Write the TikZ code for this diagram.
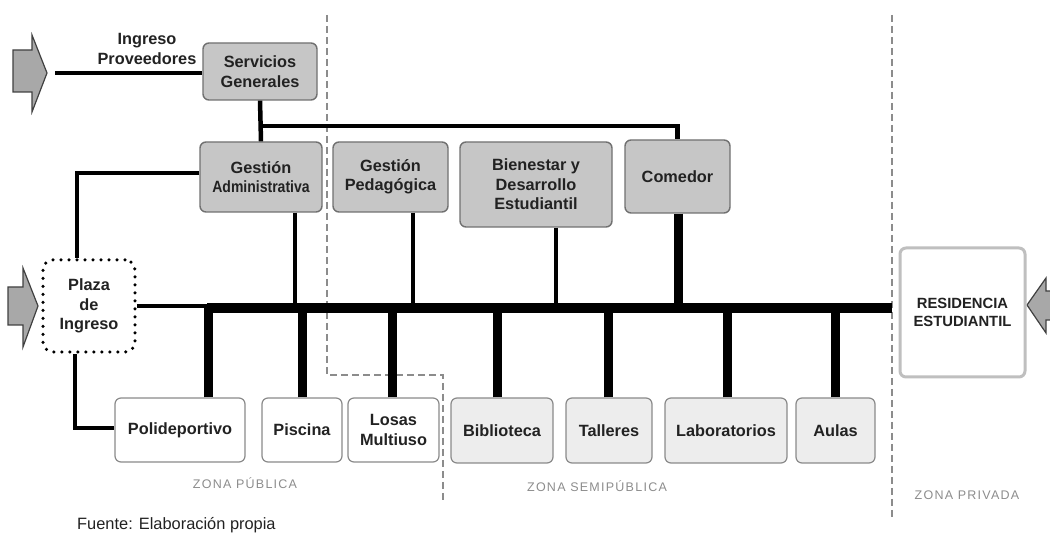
\documentclass[tikz,border=0pt]{standalone}
\usepackage{fontspec}
\setmainfont{Liberation Sans}
\newfontfamily\zonefont[LetterSpace=10]{Liberation Sans}
\definecolor{boxdark}{HTML}{C6C6C6}
\definecolor{boxlight}{HTML}{EDEDED}
\definecolor{edgegray}{HTML}{707070}
\definecolor{edgelight}{HTML}{8A8A8A}
\definecolor{txt}{HTML}{222222}
\definecolor{zonegray}{HTML}{8C8C8C}
\definecolor{arrowfill}{HTML}{A8A8A8}
\begin{document}
\begin{tikzpicture}[x=1pt,y=-1pt,
  boxbase/.style={rounded corners=6pt, align=center, inner sep=0pt, text=txt,
    font=\fontsize{16.3}{19.5}\selectfont\bfseries},
  darkbox/.style={boxbase, draw=edgegray, line width=1.4pt, fill=boxdark},
  lightbox/.style={boxbase, draw=edgelight, line width=1.2pt, fill=boxlight},
  whitebox/.style={boxbase, draw=edgelight, line width=1.2pt, fill=white},
  thinline/.style={line width=4.5pt, black},
  thickline/.style={line width=9pt, black},
  busline/.style={line width=10.5pt, black},
  zoneline/.style={draw=zonegray, line width=2pt, dash pattern=on 7pt off 4pt},
  zonelabel/.style={text=zonegray, font=\zonefont\fontsize{12.5}{14}\selectfont, inner sep=0pt},
  blockarrow/.style={fill=arrowfill, draw=black!75, line width=1.2pt, line join=miter}
]
\useasboundingbox (0,0) rectangle (1050,534);

% zone boundaries
\coordinate (zA) at (327,15);
\coordinate (zB) at (327,375);
\coordinate (zC) at (443,375);
\coordinate (zD) at (443,500);
\coordinate (zE) at (892,15);
\coordinate (zF) at (892,520);
\draw[zoneline] (zA) -- (zB) -- (zC) -- (zD);
\draw[zoneline] (zE) -- (zF);

% block arrows
\draw[blockarrow] (13,50) -- (32,50) -- (32,35) -- (47,73) -- (32,112) -- (32,92) -- (13,92) -- cycle;
\draw[blockarrow] (8,287) -- (23,287) -- (23,268) -- (38,306) -- (23,347) -- (23,325) -- (8,325) -- cycle;
\draw[blockarrow] (1051,291) -- (1046,291) -- (1046,278) -- (1027,305) -- (1046,333) -- (1046,320) -- (1051,320);

% upper nodes
\node[darkbox, minimum width=114, minimum height=57] (sg) at (260,71.5) {Servicios\\Generales};
\node[darkbox, minimum width=122, minimum height=70] (ga) at (261,177) {Gesti\'on\\\scalebox{0.86}[1]{Administrativa}};
\node[darkbox, minimum width=115, minimum height=70] (gp) at (390.5,177) {Gesti\'on\\Pedag\'ogica};
\node[darkbox, minimum width=152, minimum height=85] (bien) at (536,184.5) {Bienestar y\\Desarrollo\\Estudiantil};
\node[darkbox, minimum width=105, minimum height=73] (com) at (677.5,176.5) {Comedor};

\node[text=txt, font=\fontsize{16.3}{19.5}\selectfont\bfseries, align=center, inner sep=0pt] (ip) at (147,49) {Ingreso\\Proveedores};

% plaza
\node[boxbase, draw=black, line width=3.5pt, dash pattern=on 0pt off 8pt, line cap=round,
      fill=white, minimum width=92, minimum height=92, rounded corners=10pt] (plaza) at (89,306) {Plaza\\de\\Ingreso};

% residence
\node[boxbase, draw=black!25, line width=3pt, fill=white, minimum width=125, minimum height=129,
      font=\fontsize{14.8}{17.5}\selectfont\bfseries] (res) at (962.5,312.5) {RESIDENCIA\\ESTUDIANTIL};

% lower nodes
\node[whitebox, minimum width=130, minimum height=64] (poli) at (180,430) {Polideportivo};
\node[whitebox, minimum width=80, minimum height=64] (pisc) at (302,430) {Piscina};
\node[whitebox, minimum width=91, minimum height=64] (losas) at (393.5,430) {Losas\\Multiuso};
\node[lightbox, minimum width=102, minimum height=65] (bib) at (502,430.5) {Biblioteca};
\node[lightbox, minimum width=86, minimum height=65] (tall) at (609,430.5) {Talleres};
\node[lightbox, minimum width=122, minimum height=65] (lab) at (726,430.5) {Laboratorios};
\node[lightbox, minimum width=79, minimum height=65] (aulas) at (835.5,430.5) {Aulas};

% zone labels and source
\node[zonelabel] (zp) at (245,483) {ZONA P\'UBLICA};
\node[zonelabel] (zs) at (597,486) {ZONA SEMIP\'UBLICA};
\node[zonelabel] (zr) at (967,495) {ZONA PRIVADA};
\node[anchor=west, inner sep=0pt, text=txt, font=\fontsize{16.4}{18}\selectfont] (src) at (77,525) {Fuente: Elaboraci\'on propia};

% connectors
\coordinate (ipstart) at (55,73);
\draw[thinline] (ipstart) -- (ipstart -| sg.west);
\draw[thinline] (sg.south) -- (ga.north);
\coordinate (topbar) at (262,126);
\draw[thinline] (topbar) -| (com.north);

\coordinate (pA) at (77,173);
\draw[thinline] (ga.west |- pA) -- (pA) -- (pA |- plaza.north);
\coordinate (pB) at (75,428);
\draw[thinline] (pB |- plaza.south) -- (pB) -- (pB -| poli.west);

\coordinate (busStart) at (207,308);
\draw[thinline] (plaza.east) -- (plaza.east -| busStart);
\draw[busline] (busStart) -- ([xshift=-7pt]busStart -| res.west);

\draw[thinline] ([xshift=34pt]ga.south) -- ([xshift=34pt]ga.south |- busStart);
\draw[thinline] ([xshift=22.5pt]gp.south) -- ([xshift=22.5pt]gp.south |- busStart);
\draw[thinline] ([xshift=20pt]bien.south) -- ([xshift=20pt]bien.south |- busStart);
\draw[thickline] ([xshift=1pt]com.south) -- ([xshift=1pt]com.south |- busStart);

\draw[thickline] ([xshift=28pt]poli.north) -- ([xshift=28pt]poli.north |- busStart);
\draw[thickline] (pisc.north) -- (pisc.north |- busStart);
\draw[thickline] ([xshift=-1.5pt]losas.north) -- ([xshift=-1.5pt]losas.north |- busStart);
\draw[thickline] ([xshift=-5pt]bib.north) -- ([xshift=-5pt]bib.north |- busStart);
\draw[thickline] ([xshift=-1pt]tall.north) -- ([xshift=-1pt]tall.north |- busStart);
\draw[thickline] ([xshift=1pt]lab.north) -- ([xshift=1pt]lab.north |- busStart);
\draw[thickline] (aulas.north) -- (aulas.north |- busStart);
\end{tikzpicture}
\end{document}
